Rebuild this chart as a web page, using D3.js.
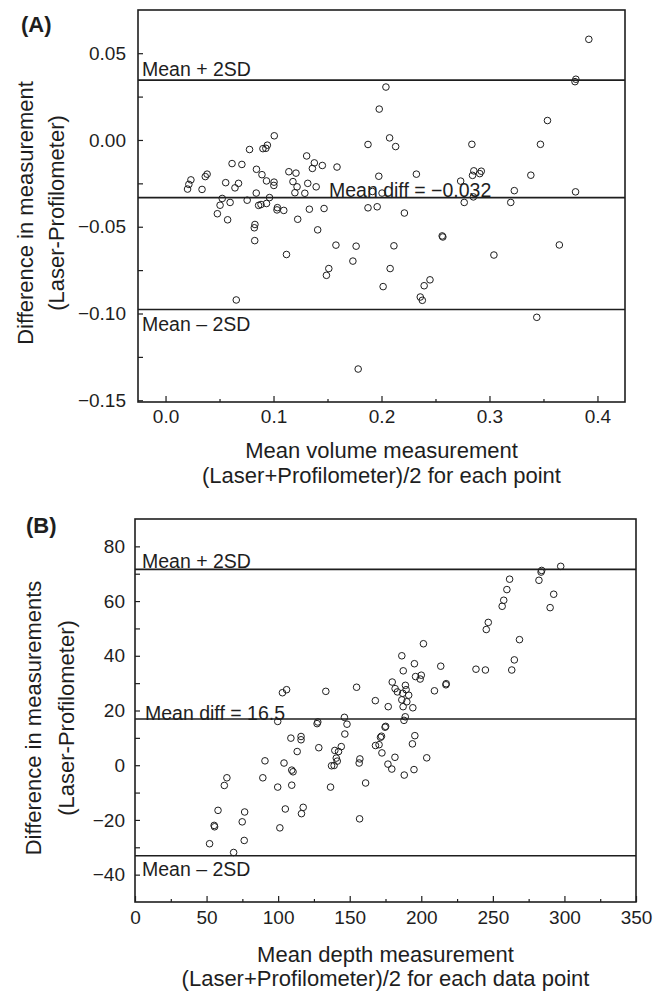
<!DOCTYPE html>
<html>
<head>
<meta charset="utf-8">
<script src="https://cdn.jsdelivr.net/npm/d3@7"></script>
<style>
  html, body { margin: 0; padding: 0; background: #fff; }
  svg { display: block; }
  text { font-family: "Liberation Sans", Arial, Helvetica, sans-serif; fill: #1e1e1e; }
</style>
</head>
<body>
<script>
// ---------- Panel A data: mean volume vs difference ----------
const volMean = [0.0204,0.0216,0.0235,0.0338,0.0368,0.0385,0.048,0.0505,0.0525,0.0557,0.0575,0.0598,0.0616,0.0643,0.0655,0.0676,0.0707,0.0756,0.0778,0.0822,0.0828,0.0826,0.0842,0.084,0.0862,0.0884,0.0893,0.0902,0.0929,0.0943,0.0935,0.0935,0.0963,0.1007,0.1005,0.1003,0.1032,0.1036,0.1095,0.112,0.1142,0.118,0.1198,0.1208,0.1218,0.1224,0.129,0.1307,0.1317,0.1332,0.136,0.1378,0.1395,0.1409,0.1452,0.1468,0.149,0.1512,0.1578,0.1588,0.1735,0.1765,0.1784,0.1875,0.1875,0.1916,0.196,0.1975,0.1979,0.2005,0.2015,0.2041,0.2075,0.208,0.2115,0.2131,0.2212,0.2323,0.2359,0.2378,0.2395,0.2449,0.2562,0.2568,0.2733,0.2766,0.2837,0.2843,0.2851,0.2855,0.291,0.2924,0.3041,0.3197,0.323,0.3383,0.3438,0.3472,0.3537,0.3647,0.3797,0.3792,0.38,0.392];
const volDiff = [-0.0283,-0.0256,-0.023,-0.0285,-0.0211,-0.0197,-0.0425,-0.0376,-0.0337,-0.0246,-0.046,-0.036,-0.0136,-0.0276,-0.0922,-0.025,-0.0141,-0.0347,-0.0055,-0.0506,-0.0487,-0.058,-0.0169,-0.0306,-0.0377,-0.0372,-0.02,-0.005,-0.0048,-0.003,-0.0366,-0.0236,-0.0332,0.0024,-0.0243,-0.0262,-0.0403,-0.039,-0.0406,-0.066,-0.0183,-0.024,-0.0304,-0.0191,-0.027,-0.0457,-0.0307,-0.0092,-0.025,-0.0399,-0.0164,-0.0132,-0.027,-0.0518,-0.0147,-0.0395,-0.078,-0.0741,-0.0606,-0.0156,-0.0698,-0.0612,-0.132,-0.0026,-0.0391,-0.0297,-0.0385,-0.0209,0.0178,-0.0306,-0.0845,0.0305,0.0012,-0.0741,-0.061,-0.0038,-0.0421,-0.0197,-0.0905,-0.0924,-0.084,-0.0806,-0.0553,-0.0559,-0.0237,-0.036,-0.0025,-0.0204,-0.0328,-0.0178,-0.0194,-0.018,-0.0663,-0.036,-0.0292,-0.0203,-0.1022,-0.0025,0.0112,-0.0605,-0.0299,0.0336,0.035,0.058];
const volLineValues = [0.0345, -0.0332, -0.0977];
const volLineLabels = ["Mean + 2SD", "Mean diff = \u22120.032", "Mean \u2013 2SD"];
const volXTicks = [0, 0.1, 0.2, 0.3, 0.4];
const volXMinor = [0.05, 0.15, 0.25, 0.35];
const volYTicks = [0.05, 0.0, -0.05, -0.10, -0.15];
const volYMinor = [0.025, -0.025, -0.075, -0.125];

// ---------- Panel B data: mean depth vs difference ----------
const depthMean = [52.1,55.3,55.6,58.0,62.4,64.2,68.9,74.9,76.6,76.3,89.3,90.8,99.7,99.7,101.2,103,104.1,105,105.9,108.9,109.5,109.5,110.4,113.3,116,116,116.3,117.5,127.2,127.7,128.4,133.3,136.6,137.3,139.1,139.6,140.6,141.3,142.2,144.1,146.3,146.6,148.1,154.8,156.6,157.1,156.9,161.1,167.9,168,170.5,171.5,172.2,172.5,174.7,175.1,176.7,176.9,179.4,179.7,181.6,181.7,183.3,186.4,186.4,187.4,187.3,187.9,188.1,188.8,188.9,189.9,189.4,191.2,194.1,193.8,194.9,195.2,195.5,196.0,199.2,200.0,201.5,203.8,209.2,213.6,217.2,217.4,238.2,244.8,245.4,246.8,256.5,257.6,259.8,261.7,263.2,265.0,268.6,282.2,283.7,284.1,290.0,292.5,297.4,187.0];
const depthDiff = [-28.7,-22.0,-22.5,-16.5,-7.4,-4.6,-31.9,-20.7,-17.1,-27.5,-4.6,1.6,-8.0,16.0,-22.9,26.5,0.8,-16.0,27.6,9.9,-7.3,-1.8,-2.4,5.0,10.5,9.3,-17.7,-15.4,15.2,15.8,6.4,27.0,-8.0,-0.2,-0.1,5.4,2.6,1.5,5.0,6.8,17.5,11.4,15.0,28.5,0.8,2.3,-19.6,-6.5,23.6,7.2,7.5,10.2,10.6,4.5,13.9,14.2,0.4,21.4,-1.4,30.4,2.9,28.0,26.8,40.0,23.9,34.5,21.4,16.4,-3.6,17.7,29.2,23.2,27.6,25.6,21.0,7.8,-1.6,37.1,10.8,32.4,31.5,32.9,44.4,2.7,27.2,36.2,29.4,29.8,35.1,34.8,49.6,52.2,58.1,60.3,64.2,68.0,34.8,38.5,45.9,67.6,70.6,71.2,57.6,62.5,72.7,26.3];
const depthLineValues = [71.6, 16.9, -33.1];
const depthLineLabels = ["Mean + 2SD", "Mean diff = 16.5", "Mean \u2013 2SD"];
const depthXTicks = [0, 50, 100, 150, 200, 250, 300, 350];
const depthXMinor = [25, 75, 125, 175, 225, 275, 325];
const depthYTicks = [80, 60, 40, 20, 0, -20, -40];
const depthYMinor = [70, 50, 30, 10, -10, -30];

const svg = d3.select("body").append("svg").attr("width", 663).attr("height", 992);
const INK = "#1e1e1e";

function drawPanel(opt) {
  const x = d3.scaleLinear().domain(opt.xDomain).range([opt.left, opt.right]);
  const y = d3.scaleLinear().domain(opt.yDomain).range([opt.bottom, opt.top]);
  const g = svg.append("g");

  // minor ticks
  g.append("g").attr("transform", `translate(0,${opt.bottom})`)
    .call(d3.axisBottom(x).tickValues(opt.xMinor).tickSize(-3).tickSizeOuter(0).tickFormat(""))
    .call(s => s.select(".domain").remove());
  g.append("g").attr("transform", `translate(${opt.left},0)`)
    .call(d3.axisLeft(y).tickValues(opt.yMinor).tickSize(-5).tickSizeOuter(0).tickFormat(""))
    .call(s => s.select(".domain").remove());

  // major ticks
  const xa = g.append("g").attr("transform", `translate(0,${opt.bottom})`)
    .call(d3.axisBottom(x).tickValues(opt.xTicks).tickSize(-6).tickSizeOuter(0)
      .tickPadding(opt.xPad).tickFormat(d3.format(opt.xFmt)));
  xa.select(".domain").remove();
  const ya = g.append("g").attr("transform", `translate(${opt.left},0)`)
    .call(d3.axisLeft(y).tickValues(opt.yTicks).tickSize(-5).tickSizeOuter(0)
      .tickPadding(opt.yPad).tickFormat(d3.format(opt.yFmt)));
  ya.select(".domain").remove();
  g.selectAll(".tick line").attr("stroke", INK).attr("stroke-width", 1.2);
  g.selectAll(".tick text").attr("font-size", 19).attr("fill", INK)
    .style("font-family", "'Liberation Sans', Arial, sans-serif");

  // reference lines
  g.selectAll("line.ref").data(opt.lineValues).join("line").attr("class", "ref")
    .attr("x1", opt.left).attr("x2", opt.right)
    .attr("y1", d => y(d)).attr("y2", d => y(d))
    .attr("stroke", INK).attr("stroke-width", 1.6);

  // points
  g.selectAll("circle").data(opt.xs.map((v, i) => [v, opt.ys[i]])).join("circle")
    .attr("cx", d => x(d[0])).attr("cy", d => y(d[1])).attr("r", 3.3)
    .attr("fill", "none").attr("stroke", INK).attr("stroke-width", 1);

  // line labels
  g.selectAll("text.reflab").data(opt.lineLabels).join("text").attr("class", "reflab")
    .attr("x", (d, i) => opt.labX[i])
    .attr("y", (d, i) => y(opt.lineValues[i]) + opt.labDy[i])
    .attr("font-size", 19.5).text(d => d);

  // frame
  g.append("rect").attr("x", opt.left).attr("y", opt.top)
    .attr("width", opt.right - opt.left).attr("height", opt.bottom - opt.top)
    .attr("fill", "none").attr("stroke", INK).attr("stroke-width", 1.6);

  // panel tag
  g.append("text").attr("x", opt.tagX).attr("y", opt.tagY)
    .attr("font-size", 22).attr("font-weight", "bold").text(opt.tag);

  // y title
  const cy = opt.yTitleCenter;
  opt.yTitle.forEach((t, i) => {
    g.append("text").attr("transform", `translate(${opt.yTitleX[i]},${cy}) rotate(-90)`)
      .attr("text-anchor", "middle").attr("font-size", 22).text(t);
  });
  // x title
  const cx = (opt.left + opt.right) / 2;
  opt.xTitle.forEach((t, i) => {
    g.append("text").attr("x", cx).attr("y", opt.xTitleY[i])
      .attr("text-anchor", "middle").attr("font-size", 22).text(t);
  });
}

drawPanel({
  left: 138, right: 625, top: 10, bottom: 402,
  xDomain: [-0.0255, 0.4255], yDomain: [-0.151, 0.0749],
  xTicks: volXTicks, xMinor: volXMinor, yTicks: volYTicks, yMinor: volYMinor,
  xFmt: ".1f", yFmt: ".2f", xPad: 8, yPad: 12,
  xs: volMean, ys: volDiff,
  lineValues: volLineValues, lineLabels: volLineLabels,
  labX: [142, 329, 142], labDy: [-4, -1, 21],
  tag: "(A)", tagX: 21, tagY: 32,
  yTitle: ["Difference in measurement", "(Laser-Profilometer)"], yTitleX: [33, 64], yTitleCenter: 213,
  xTitle: ["Mean volume measurement", "(Laser+Profilometer)/2 for each point"], xTitleY: [458, 483]
});

drawPanel({
  left: 135, right: 636, top: 519, bottom: 902,
  xDomain: [0, 350], yDomain: [-50, 90],
  xTicks: depthXTicks, xMinor: depthXMinor, yTicks: depthYTicks, yMinor: depthYMinor,
  xFmt: "d", yFmt: "d", xPad: 9, yPad: 10,
  xs: depthMean, ys: depthDiff,
  lineValues: depthLineValues, lineLabels: depthLineLabels,
  labX: [142, 145, 142], labDy: [-1.5, 1, 20],
  tag: "(B)", tagX: 26, tagY: 533,
  yTitle: ["Difference in measurements", "(Laser-Profilometer)"], yTitleX: [41, 74], yTitleCenter: 718,
  xTitle: ["Mean depth measurement", "(Laser+Profilometer)/2 for each data point"], xTitleY: [962, 986]
});
</script>
</body>
</html>
